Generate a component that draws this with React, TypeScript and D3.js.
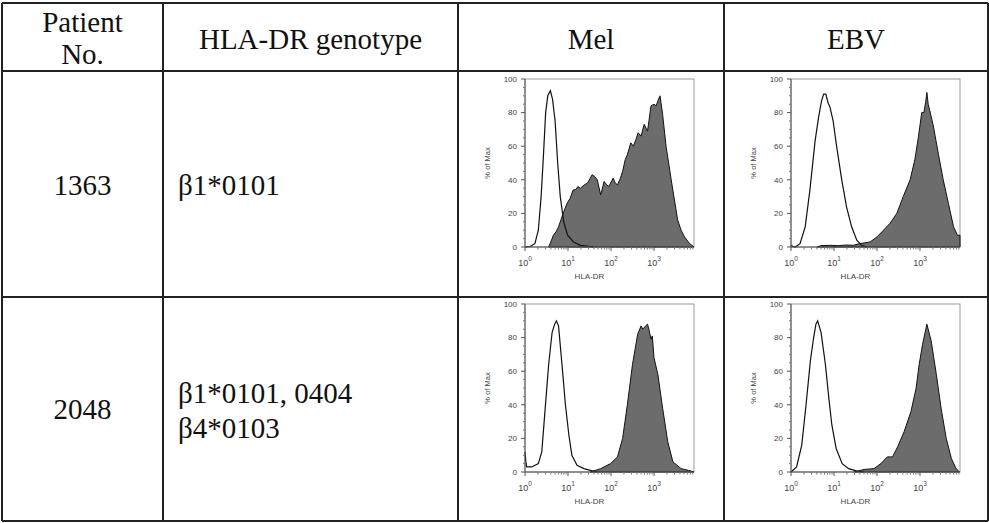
import React, { useEffect } from 'react';
import * as d3 from 'd3';

// table content
const headers = ['Patient|No.', 'HLA-DR genotype', 'Mel', 'EBV'];
const patients = ['1363', '2048'];
const genotypes = [['β1*0101'], ['β1*0101, 0404', 'β4*0103']];

// histogram traces: [log10 intensity, % of max]
const mel1363Control: [number, number][] = [
  [0, 0], [0.12, 0.3], [0.23, 2], [0.31, 10], [0.375, 30], [0.43, 55], [0.48, 80], [0.53, 90],
  [0.59, 93], [0.64, 88], [0.7, 75], [0.76, 50], [0.82, 30], [0.9, 15], [0.99, 7], [1.13, 3],
  [1.29, 1], [1.6, 0],
];
const mel1363Stained: [number, number][] = [
  [0.55, 0], [0.6, 3], [0.66, 7], [0.72, 9], [0.78, 12], [0.9, 21], [0.98, 26], [1.05, 29],
  [1.12, 34], [1.17, 34], [1.23, 36], [1.29, 35], [1.38, 37], [1.45, 38], [1.52, 41], [1.56, 43],
  [1.62, 42], [1.68, 40], [1.76, 31], [1.84, 39], [1.9, 37], [1.95, 36], [2.05, 41], [2.1, 38],
  [2.15, 37], [2.22, 41], [2.27, 45], [2.33, 52], [2.38, 55], [2.46, 62], [2.52, 60], [2.58, 64],
  [2.63, 68], [2.7, 66], [2.77, 73], [2.85, 69], [2.93, 84], [3.0, 85], [3.05, 84], [3.09, 87],
  [3.14, 90], [3.2, 79], [3.28, 60], [3.4, 40], [3.55, 16], [3.63, 10], [3.71, 6], [3.83, 2],
  [3.93, 0],
];
const ebv1363Control: [number, number][] = [
  [0, 1], [0.05, 0.3], [0.1, 0], [0.21, 2], [0.33, 12], [0.44, 34], [0.56, 63], [0.64, 77],
  [0.71, 87], [0.76, 91], [0.81, 91], [0.86, 86], [0.91, 83], [0.98, 75], [1.06, 60], [1.18, 40],
  [1.29, 24], [1.41, 12], [1.53, 4], [1.64, 1], [1.76, 0],
];
const ebv1363Stained: [number, number][] = [
  [0.6, 0], [0.7, 0.8], [0.9, 1], [1.1, 0.8], [1.29, 1.2], [1.45, 1], [1.6, 2], [1.84, 3],
  [2.0, 6], [2.15, 10], [2.3, 14], [2.46, 20], [2.61, 30], [2.77, 40], [2.88, 52], [2.96, 65],
  [3.04, 80], [3.09, 80], [3.13, 86], [3.16, 92], [3.19, 85], [3.22, 82], [3.31, 72], [3.43, 55],
  [3.54, 40], [3.66, 26], [3.78, 12], [3.87, 7], [3.93, 7],
];
const mel2048Control: [number, number][] = [
  [0, 12], [0.02, 6], [0.04, 3], [0.16, 3], [0.31, 5], [0.39, 12], [0.47, 38], [0.55, 64],
  [0.63, 83], [0.69, 88], [0.73, 90], [0.78, 87], [0.86, 64], [0.94, 40], [1.02, 22], [1.09, 10],
  [1.21, 4], [1.37, 2], [1.52, 1], [1.68, 0],
];
const mel2048Stained: [number, number][] = [
  [1.52, 0], [1.76, 2], [1.99, 5], [2.15, 9], [2.27, 20], [2.38, 40], [2.5, 64], [2.62, 82],
  [2.7, 87], [2.74, 85], [2.77, 86], [2.81, 87], [2.85, 88], [2.89, 84], [2.93, 79], [2.96, 81],
  [3.0, 68], [3.09, 58], [3.2, 38], [3.32, 18], [3.44, 6], [3.63, 2], [3.8, 1], [3.93, 0],
];
const ebv2048Control: [number, number][] = [
  [0, 0], [0.13, 3], [0.25, 16], [0.35, 40], [0.45, 66], [0.52, 79], [0.58, 88], [0.62, 90],
  [0.7, 83], [0.8, 64], [0.88, 44], [0.95, 28], [1.05, 14], [1.19, 5], [1.34, 2], [1.54, 0.5],
  [1.7, 0],
];
const ebv2048Stained: [number, number][] = [
  [1.46, 0], [1.7, 1.5], [1.93, 2], [2.09, 5], [2.24, 9], [2.36, 9], [2.48, 15], [2.63, 24],
  [2.79, 36], [2.91, 50], [2.98, 64], [3.06, 76], [3.16, 88], [3.26, 78], [3.38, 58], [3.49, 38],
  [3.61, 20], [3.73, 8], [3.84, 2], [3.92, 0],
];

const panels = [
  { control: mel1363Control, stained: mel1363Stained },
  { control: ebv1363Control, stained: ebv1363Stained },
  { control: mel2048Control, stained: mel2048Stained },
  { control: ebv2048Control, stained: ebv2048Stained },
];

const yTicks = [0, 20, 40, 60, 80, 100];
const xTickExps = [0, 1, 2, 3];

const serif = '"Liberation Serif", "Times New Roman", serif';
const sans = '"Liberation Sans", Arial, sans-serif';
const fs = 29;

const Histogram = ({ left, top, control, stained }: any) => {
  const size = 169;
  const h = 168;
  const x = d3.scaleLog().domain([1, 10 ** 3.93]).range([0, size]);
  const y = d3.scaleLinear().domain([0, 100]).range([h, 0]);
  const line = d3.line<[number, number]>().x(d => x(10 ** d[0])).y(d => y(d[1]));
  const area = d3.area<[number, number]>().x(d => x(10 ** d[0])).y0(y(0)).y1(d => y(d[1]));
  const minorX: number[] = [];
  for (let e = 0; e < 4; e++) for (let k = 2; k <= 9; k++) if (k * 10 ** e <= 10 ** 3.93) minorX.push(k * 10 ** e);
  const minorY = d3.range(0, 101, 5).filter(v => v % 20 !== 0);
  return (
    <g transform={`translate(${left},${top})`}>
      <rect x={0} y={0} width={size} height={h} fill="white" stroke="#999" strokeWidth={1} />
      <path d={area(stained) || ''} fill="#6c6c6c" stroke="#111" strokeWidth={1} />
      <path d={line(control) || ''} fill="none" stroke="#111" strokeWidth={1.2} />
      <line x1={0} x2={0} y1={0} y2={h} stroke="#555" />
      <line x1={0} x2={size} y1={h} y2={h} stroke="#555" />
      {yTicks.map(t => (
        <g key={t} transform={`translate(0,${y(t)})`}>
          <line x1={-4} x2={0} stroke="#555" />
          <text x={-8} dy="0.35em" textAnchor="end" fontSize={8} fill="#444" fontFamily={sans}>{t}</text>
        </g>
      ))}
      {minorY.map(t => <line key={t} x1={-2} x2={0} y1={y(t)} y2={y(t)} stroke="#777" />)}
      {xTickExps.map(e => (
        <g key={e} transform={`translate(${x(10 ** e)},${h})`}>
          <line y1={0} y2={4} stroke="#555" />
          <text y={19} textAnchor="middle" fontSize={9} fill="#444" fontFamily={sans}>
            10<tspan dy={-5} fontSize={6.5}>{e}</tspan>
          </text>
        </g>
      ))}
      {minorX.map(v => <line key={v} x1={x(v)} x2={x(v)} y1={h} y2={h + 2.5} stroke="#777" />)}
      <text transform={`translate(-38,${h / 2}) rotate(-90)`} textAnchor="middle" dy="0.35em" fontSize={7.5} fill="#444" fontFamily={sans}>% of Max</text>
      <text x={size / 2 - 20} y={h + 32} textAnchor="middle" fontSize={8} fill="#444" fontFamily={sans}>HLA-DR</text>
    </g>
  );
};

export default function App() {
  useEffect(() => {
    document.body.style.margin = '0';
  }, []);
  const colX = [2, 163, 458, 724, 988];
  const rowY = [3, 71, 297, 521];
  const plotLeft = [525, 791];
  const plotTop = [79, 304];
  const rowBase = [195, 419];
  return (
    <svg width={989} height={523} style={{ display: 'block', background: 'white' }}>
      {/* table grid */}
      {rowY.map(v => <line key={'h' + v} x1={colX[0]} x2={colX[4]} y1={v} y2={v} stroke="#222" strokeWidth={2} />)}
      {colX.map(v => <line key={'v' + v} x1={v} x2={v} y1={rowY[0]} y2={rowY[3]} stroke="#222" strokeWidth={2} />)}
      {/* header */}
      {headers.map((hd, i) => {
        const cx = (colX[i] + colX[i + 1]) / 2;
        const parts = hd.split('|');
        return parts.length > 1 ? (
          <text key={hd} x={cx} textAnchor="middle" fontSize={fs} fontFamily={serif} fill="#111">
            <tspan x={cx} y={32}>{parts[0]}</tspan>
            <tspan x={cx} y={64}>{parts[1]}</tspan>
          </text>
        ) : (
          <text key={hd} x={cx} y={49} textAnchor="middle" fontSize={fs} fontFamily={serif} fill="#111">{hd}</text>
        );
      })}
      {/* rows */}
      {patients.map((p, r) => (
        <g key={p}>
          <text x={(colX[0] + colX[1]) / 2} y={rowBase[r]} textAnchor="middle" fontSize={fs} fontFamily={serif} fill="#111">{p}</text>
          {genotypes[r].map((g, k) => (
            <text key={g} x={178} y={genotypes[r].length > 1 ? [403, 438][k] : rowBase[r]} fontSize={fs} fontFamily={serif} fill="#111">{g}</text>
          ))}
        </g>
      ))}
      {/* histograms */}
      {panels.map((pn, i) => (
        <Histogram key={i} left={plotLeft[i % 2]} top={plotTop[Math.floor(i / 2)]} control={pn.control} stained={pn.stained} />
      ))}
    </svg>
  );
}
